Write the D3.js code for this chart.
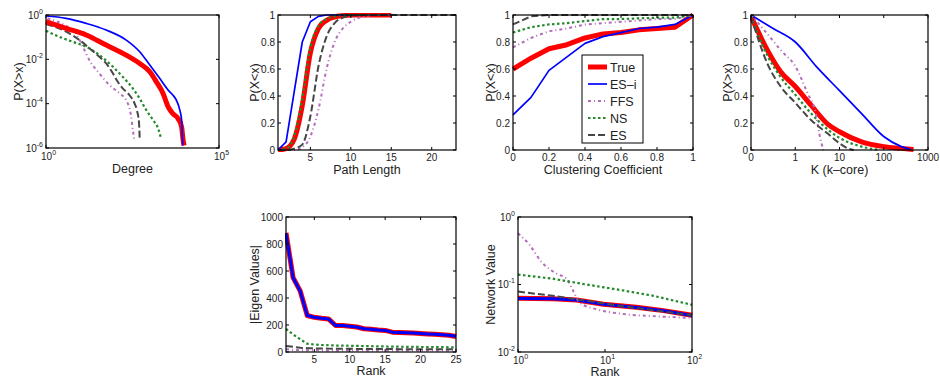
<!DOCTYPE html>
<html><head><meta charset="utf-8">
<script src="https://cdn.jsdelivr.net/npm/d3@7"></script>
<style>
body{margin:0;background:#fff;}
text{font-family:"Liberation Sans",Arial,Helvetica,sans-serif;fill:#222;}
</style></head>
<body><svg id="c" width="940" height="379"></svg>
<script>
// ---------- DATA ----------
const seriesNames = ["True","ES\u2013i","FFS","NS","ES"];

// Degree distribution (CCDF)
const degTrueX = [1,3.8,14.5,55,209,510,1000,1560,2420,3390,4700,6600,8300,9200,9800];
const degTrueY = [0.5,0.25,0.126,0.044,0.0155,0.0065,0.00275,0.00095,0.00029,7.1e-5,3.5e-5,2.1e-5,8.9e-6,2.2e-6,1.3e-6];
const degEsiX = [1,3.8,14.5,55,209,510,1000,1950,3390,4700,5900,7400,8300,8900];
const degEsiY = [0.9,0.71,0.42,0.21,0.074,0.022,0.0055,0.00135,4.1e-4,2.4e-4,1.4e-4,5e-5,1.8e-5,1.3e-6];
const degFfsX = [1.1,3.8,7.4,11.6,18,35,69,134,209,280,325,350];
const degFfsY = [0.71,0.32,0.148,0.037,0.0091,0.0023,6.8e-4,2.9e-4,1.4e-4,3.5e-5,6.3e-6,2.6e-6];
const degNsX = [1,2.4,5.9,14.5,35,86,167,325,510,800,1250,1750,2050];
const degNsY = [0.195,0.105,0.062,0.037,0.0155,0.0046,0.0016,4.8e-4,1.7e-4,5e-5,1.8e-5,7.4e-6,3.2e-6];
const degEsX = [1,3.8,9.3,18,35,55,86,120,167,260,365,425,490,510];
const degEsY = [0.39,0.178,0.074,0.0316,0.0129,0.0065,0.0023,9.5e-4,4.8e-4,2.4e-4,1e-4,5e-5,1.26e-5,2.6e-6];

// Path length (CDF)
const plTrueX = [1,2,3,4,5,6,7,8,9,10,15];
const plTrueY = [0,0.01,0.08,0.33,0.72,0.9,0.96,0.985,0.995,1,1];
const plEsiX = [1,2,3,4,5,6,7,10];
const plEsiY = [0,0.06,0.43,0.8,0.95,0.99,1,1];
const plFfsX = [1,2,3,4,5,6,7,8,9,10,11,12,13,15];
const plFfsY = [0,0,0,0.02,0.1,0.3,0.6,0.8,0.9,0.95,0.98,0.995,1,1];
const plNsX = [1,2,3,4,5,6,7,8,9,12];
const plNsY = [0,0.01,0.1,0.38,0.76,0.92,0.97,0.99,1,1];
const plEsX = [1,2,3,4,5,6,7,8,9,10,11,23];
const plEsY = [0,0,0.01,0.04,0.25,0.62,0.84,0.94,0.98,0.995,1,1];

// Clustering coefficient (CDF)
const ccX = [0,0.1,0.2,0.3,0.4,0.5,0.6,0.7,0.8,0.9,1];
const ccTrue = [0.6,0.68,0.75,0.78,0.83,0.86,0.87,0.89,0.9,0.91,1];
const ccEsi = [0.26,0.39,0.59,0.69,0.79,0.84,0.87,0.9,0.91,0.93,1];
const ccFfs = [0.76,0.83,0.88,0.9,0.93,0.94,0.95,0.96,0.97,0.97,1];
const ccNs = [0.87,0.91,0.93,0.94,0.955,0.97,0.97,0.975,0.98,0.98,1];
const ccEs = [0.93,0.99,1,1,1,1,1,1,1,1,1];

// K-core (CCDF)
const kcTrueX = [0,0.37,0.67,1,2.3,5.5,10,31.6,100,250,470];
const kcTrueY = [0.99,0.74,0.58,0.47,0.33,0.19,0.135,0.06,0.025,0.012,0.004];
const kcEsiX = [0,0.5,1,3.16,10,31.6,100,250,400];
const kcEsiY = [1,0.9,0.8,0.61,0.44,0.27,0.1,0.025,0.005];
const kcFfsX = [0,0.37,0.67,1,1.9,2.9,3.5,4.3];
const kcFfsY = [1,0.86,0.74,0.62,0.42,0.27,0.12,0];
const kcNsX = [0,0.37,0.67,1,2.3,5.5,10,31.6,80];
const kcNsY = [0.99,0.7,0.54,0.41,0.27,0.15,0.09,0.025,0];
const kcEsX = [0,0.37,0.67,1,2.3,5.5,10,16,21];
const kcEsY = [0.99,0.64,0.47,0.35,0.22,0.12,0.05,0.01,0];
const kcTicks = [0,1,10,100,1000];

// Eigenvalues by rank
const eigRank = d3.range(1,26);
const eigTrue = [882,551,453,270,257,250,245,196,196,191,185,172,168,163,160,147,145,143,140,137,134,131,128,124,115];
const eigEsi  = [880,550,452,270,257,250,245,196,196,191,185,172,168,163,160,147,145,143,140,137,134,131,128,124,116];
const eigNs   = [172,130,95,61,55,52,50,48,47,46,45,44,43,42,41,40,39,38,38,37,37,36,36,35,35];
const eigEs   = [45,38,32,28,27,26,25,25,24,24,23,23,23,22,22,22,21,21,21,21,20,20,20,20,20];
const eigFfs  = [20,15,14,13,13,12,12,12,12,12,12,12,11,11,11,11,11,11,11,11,11,11,11,11,11];

// Network value by rank
const nvTrueX = [1,2.5,4.7,9.6,23,47,100];
const nvTrueY = [0.0624,0.0617,0.059,0.051,0.046,0.041,0.035];
const nvEsiX = [1,2.5,4.7,9.6,23,47,100];
const nvEsiY = [0.0622,0.0615,0.0588,0.0508,0.0458,0.0408,0.0348];
const nvFfsX = [1,1.36,1.86,2.77,3.6,4.3,5.1,8,14.9,36,100];
const nvFfsY = [0.575,0.385,0.216,0.145,0.122,0.081,0.054,0.043,0.037,0.034,0.032];
const nvNsX = [1,2.5,6.1,14.9,36,100];
const nvNsY = [0.14,0.122,0.1,0.083,0.068,0.05];
const nvEsX = [1,2.5,6.1,14.9,36,100];
const nvEsY = [0.0785,0.068,0.0575,0.048,0.0417,0.035];

// ---------- STYLES ----------
const style = {
  "True": {stroke:"#ff0000", w:5, dash:null},
  "ES\u2013i": {stroke:"#0000ff", w:1.7, dash:null},
  "FFS": {stroke:"#b46cbc", w:2, dash:"3,3,1,3"},
  "NS": {stroke:"#23892a", w:2.2, dash:"2.5,2.5"},
  "ES": {stroke:"#474747", w:2, dash:"7,3"}
};

const svg = d3.select("#c");
const defs = svg.append("defs");
let clipId = 0;

function supLabel(sel, exp){
  sel.text("10");
  sel.append("tspan").attr("dy",-5).attr("font-size",7).text(exp);
}

function panel(o){
  const g = svg.append("g");
  const x = o.x, y = o.y;
  const [L,R] = x.range(), [B,T] = y.range();
  const id = "clip"+(clipId++);
  defs.append("clipPath").attr("id",id).append("rect")
    .attr("x",L-1).attr("y",T-2).attr("width",R-L+2).attr("height",B-T+4);
  const lg = g.append("g").attr("clip-path","url(#"+id+")");
  const order = o.order || [0,1,2,3,4];
  order.forEach(i=>{
    const s = o.series[i];
    const st = Object.assign({}, style[s.name], s.over||{});
    const line = d3.line().x(d=>x(o.tx?o.tx(d[0]):d[0])).y(d=>y(d[1]));
    if(s.curve) line.curve(s.curve);
    lg.append("path").datum(d3.zip(s.x,s.y))
      .attr("d",line).attr("fill","none")
      .attr("stroke",st.stroke).attr("stroke-width",st.w)
      .attr("stroke-dasharray",st.dash).attr("stroke-linejoin","round");
  });
  // frame
  g.append("rect").attr("x",L).attr("y",T).attr("width",R-L).attr("height",B-T)
    .attr("fill","none").attr("stroke","#000").attr("stroke-width",1.2);
  // ticks
  const tl = 3;
  o.xticks.forEach(t=>{
    const px = x(o.tx?o.tx(t):t);
    g.append("line").attr("x1",px).attr("x2",px).attr("y1",B).attr("y2",B-tl).attr("stroke","#000");
    g.append("line").attr("x1",px).attr("x2",px).attr("y1",T).attr("y2",T+tl).attr("stroke","#000");
  });
  o.yticks.forEach(t=>{
    const py = y(t);
    g.append("line").attr("x1",L).attr("x2",L+tl).attr("y1",py).attr("y2",py).attr("stroke","#000");
    g.append("line").attr("x1",R).attr("x2",R-tl).attr("y1",py).attr("y2",py).attr("stroke","#000");
  });
  // tick labels
  o.xticks.forEach((t,i)=>{
    const px = x(o.tx?o.tx(t):t);
    const tx = g.append("text").attr("font-size",10);
    if(o.xlog){
      tx.attr("x",px-5).attr("y",B+12).attr("text-anchor","start");
      supLabel(tx, o.xlabels[i]);
    } else {
      tx.attr("x",px).attr("y",B+11).attr("text-anchor","middle").text(o.xlabels?o.xlabels[i]:t);
    }
  });
  o.yticks.forEach((t,i)=>{
    const py = y(t);
    const ty = g.append("text").attr("x",L-3).attr("y",py+3.5).attr("text-anchor","end").attr("font-size",10);
    if(o.ylog) supLabel(ty, o.ylabels[i]); else ty.text(o.ylabels?o.ylabels[i]:t);
  });
  g.append("text").attr("x",(L+R)/2).attr("y",B+o.xtDy).attr("text-anchor","middle").attr("font-size",12.5).text(o.xtitle);
  g.append("text").attr("transform",`translate(${o.ytX},${(T+B)/2}) rotate(-90)`).attr("text-anchor","middle").attr("font-size",12.5).text(o.ytitle);
  return g;
}

const mono = d3.curveMonotoneX;

// Panel 1: Degree
panel({
  x: d3.scaleLog().domain([1,1e5]).range([46,219]),
  y: d3.scaleLog().domain([1e-6,1]).range([148,15]),
  xticks:[1,1e5], xlabels:["0","5"], xlog:true,
  yticks:[1,1e-2,1e-4,1e-6], ylabels:["0","-2","-4","-6"], ylog:true,
  xtitle:"Degree", xtDy:25, ytitle:"P(X>x)", ytX:23,
  series:[
    {name:"True",x:degTrueX,y:degTrueY,curve:mono},
    {name:"ES\u2013i",x:degEsiX,y:degEsiY,curve:mono},
    {name:"FFS",x:degFfsX,y:degFfsY,curve:mono},
    {name:"NS",x:degNsX,y:degNsY,curve:mono},
    {name:"ES",x:degEsX,y:degEsY,curve:mono}
  ], order:[2,3,4,0,1]
});

// Panel 2: Path length
panel({
  x: d3.scaleLinear().domain([1,23]).range([278,456]),
  y: d3.scaleLinear().domain([0,1]).range([150,15]),
  xticks:[5,10,15,20], yticks:[0,0.2,0.4,0.6,0.8,1],
  ylabels:["0","0.2","0.4","0.6","0.8","1"],
  xtitle:"Path Length", xtDy:24, ytitle:"P(X<x)", ytX:259,
  series:[
    {name:"True",x:plTrueX,y:plTrueY,curve:mono},
    {name:"ES\u2013i",x:plEsiX,y:plEsiY},
    {name:"FFS",x:plFfsX,y:plFfsY,curve:mono},
    {name:"NS",x:plNsX,y:plNsY,curve:mono},
    {name:"ES",x:plEsX,y:plEsY,curve:mono}
  ], order:[0,1,2,3,4]
});

// Panel 3: Clustering coefficient
panel({
  x: d3.scaleLinear().domain([0,1]).range([513,693]),
  y: d3.scaleLinear().domain([0,1]).range([150,15]),
  xticks:[0,0.2,0.4,0.6,0.8,1], xlabels:["0","0.2","0.4","0.6","0.8","1"],
  yticks:[0,0.2,0.4,0.6,0.8,1], ylabels:["0","0.2","0.4","0.6","0.8","1"],
  xtitle:"Clustering Coefficient", xtDy:24, ytitle:"P(X<x)", ytX:495,
  series:[
    {name:"True",x:ccX,y:ccTrue},
    {name:"ES\u2013i",x:ccX,y:ccEsi},
    {name:"FFS",x:ccX,y:ccFfs},
    {name:"NS",x:ccX,y:ccNs},
    {name:"ES",x:ccX,y:ccEs}
  ], order:[0,1,2,3,4]
});

// Legend in panel 3
(function(){
  const lx=582, ly=55, lw=61, lh=88;
  const lg = svg.append("g");
  lg.append("rect").attr("x",lx).attr("y",ly).attr("width",lw).attr("height",lh)
    .attr("fill","#fff").attr("stroke","#000").attr("stroke-width",1);
  seriesNames.forEach((n,i)=>{
    const yy = ly+12+i*17;
    const st = style[n];
    lg.append("line").attr("x1",lx+6).attr("x2",lx+25).attr("y1",yy).attr("y2",yy)
      .attr("stroke",st.stroke).attr("stroke-width",st.w).attr("stroke-dasharray",st.dash);
    lg.append("text").attr("x",lx+28).attr("y",yy+4.5).attr("font-size",12.5).text(n);
  });
})();

// Panel 4: K-core
const kT = v => v<=1 ? v : 1+Math.log10(v);
panel({
  x: d3.scaleLinear().domain([0,4]).range([751,928]), tx:kT,
  y: d3.scaleLinear().domain([0,1]).range([150,15]),
  xticks:kcTicks, xlabels:kcTicks.map(String),
  yticks:[0,0.2,0.4,0.6,0.8,1], ylabels:["0","0.2","0.4","0.6","0.8","1"],
  xtitle:"K (k\u2013core)", xtDy:24, ytitle:"P(X>x)", ytX:732,
  series:[
    {name:"True",x:kcTrueX,y:kcTrueY,curve:mono},
    {name:"ES\u2013i",x:kcEsiX,y:kcEsiY,curve:mono},
    {name:"FFS",x:kcFfsX,y:kcFfsY,curve:mono},
    {name:"NS",x:kcNsX,y:kcNsY,curve:mono},
    {name:"ES",x:kcEsX,y:kcEsY,curve:mono}
  ], order:[0,1,2,3,4]
});

// Panel 5: Eigenvalues
panel({
  x: d3.scaleLinear().domain([1,25]).range([286,456]),
  y: d3.scaleLinear().domain([0,1000]).range([352,217]),
  xticks:[5,10,15,20,25], yticks:[0,200,400,600,800,1000],
  xtitle:"Rank", xtDy:23, ytitle:"|Eigen Values|", ytX:259,
  series:[
    {name:"True",x:eigRank,y:eigTrue},
    {name:"ES\u2013i",x:eigRank,y:eigEsi,over:{w:3}},
    {name:"FFS",x:eigRank,y:eigFfs},
    {name:"NS",x:eigRank,y:eigNs},
    {name:"ES",x:eigRank,y:eigEs}
  ], order:[2,4,3,0,1]
});

// Panel 6: Network value
panel({
  x: d3.scaleLog().domain([1,100]).range([518,692]),
  y: d3.scaleLog().domain([0.01,1]).range([352,217]),
  xticks:[1,10,100], xlabels:["0","1","2"], xlog:true,
  yticks:[1,0.1,0.01], ylabels:["0","-1","-2"], ylog:true,
  xtitle:"Rank", xtDy:23.5, ytitle:"Network Value", ytX:495,
  series:[
    {name:"True",x:nvTrueX,y:nvTrueY},
    {name:"ES\u2013i",x:nvEsiX,y:nvEsiY,over:{w:3}},
    {name:"FFS",x:nvFfsX,y:nvFfsY,curve:mono},
    {name:"NS",x:nvNsX,y:nvNsY},
    {name:"ES",x:nvEsX,y:nvEsY}
  ], order:[0,1,2,3,4]
});
</script></body></html>
